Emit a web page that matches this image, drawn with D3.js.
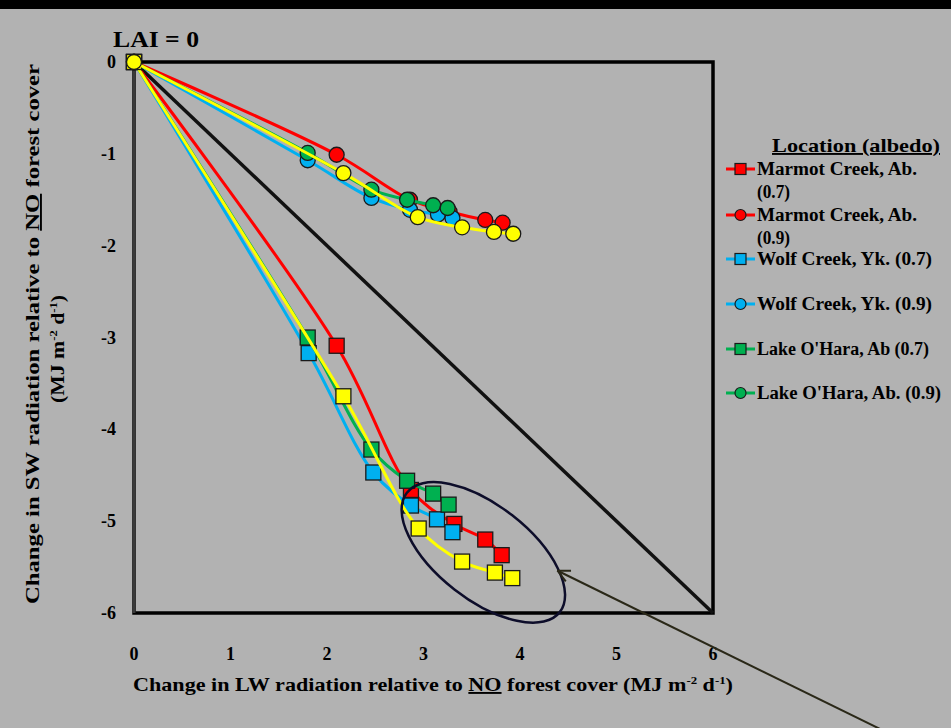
<!DOCTYPE html>
<html>
<head>
<meta charset="utf-8">
<script src="https://cdn.jsdelivr.net/npm/d3@7"></script>
<style>
  body { margin: 0; background: #000; }
  text { font-family: "Liberation Serif", "DejaVu Serif", serif; font-weight: bold; fill: #000; }
</style>
</head>
<body>
<script>
// series values, [x = change in LW, y = change in SW]
const marmot07 = [[0, 0], [2.10, -3.09], [2.87, -4.66], [3.32, -5.03], [3.64, -5.20], [3.81, -5.37]];
const marmot09 = [[0, 0], [2.10, -1.01], [2.86, -1.50], [3.27, -1.63], [3.64, -1.72], [3.82, -1.75]];
const wolf07 = [[0, 0], [1.81, -3.17], [2.48, -4.47], [2.87, -4.83], [3.14, -4.98], [3.30, -5.12]];
const wolf09 = [[0, 0], [1.80, -1.07], [2.46, -1.48], [2.86, -1.61], [3.15, -1.66], [3.30, -1.70]];
const ohara07 = [[0, 0], [1.80, -3.00], [2.46, -4.22], [2.83, -4.56], [3.10, -4.70], [3.26, -4.82]];
const ohara09 = [[0, 0], [1.80, -0.99], [2.46, -1.39], [2.83, -1.50], [3.10, -1.56], [3.25, -1.59]];
const other07 = [[0, 0], [2.17, -3.64], [2.95, -5.08], [3.40, -5.44], [3.74, -5.56], [3.92, -5.62]];
const other09 = [[0, 0], [2.17, -1.21], [2.94, -1.69], [3.40, -1.80], [3.73, -1.85], [3.93, -1.87]];

const legendNames = [
  ["Marmot Creek, Ab.", "(0.7)"],
  ["Marmot Creek, Ab.", "(0.9)"],
  ["Wolf Creek, Yk. (0.7)"],
  ["Wolf Creek, Yk. (0.9)"],
  ["Lake O'Hara, Ab (0.7)"],
  ["Lake O'Hara, Ab. (0.9)"]
];
const xTicks = [0, 1, 2, 3, 4, 5, 6];
const yTicks = [0, -1, -2, -3, -4, -5, -6];

const series = [
  { data: marmot07, color: "#ff0000", shape: "square", legend: 0 },
  { data: marmot09, color: "#ff0000", shape: "circle", legend: 1 },
  { data: wolf07, color: "#00b0f0", shape: "square", legend: 2 },
  { data: wolf09, color: "#00b0f0", shape: "circle", legend: 3 },
  { data: ohara07, color: "#00b050", shape: "square", legend: 4 },
  { data: ohara09, color: "#00b050", shape: "circle", legend: 5 },
  { data: other07, color: "#ffff00", shape: "square", legend: -1 },
  { data: other09, color: "#ffff00", shape: "circle", legend: -1 }
];

const W = 951, H = 728;
const svg = d3.select('body').append('svg')
  .attr('width', W)
  .attr('height', H);

svg.append('rect').attr('width', W).attr('height', H).attr('fill', '#000');
svg.append('rect').attr('y', 9).attr('width', W).attr('height', H - 9).attr('fill', '#b2b2b2');

const x = d3.scaleLinear().domain([0, 6]).range([134, 713]);
const y = d3.scaleLinear().domain([0, -6]).range([62, 613]);

// frame
svg.append('rect')
  .attr('x', x(0)).attr('y', y(0))
  .attr('width', x(6) - x(0)).attr('height', y(-6) - y(0))
  .attr('fill', 'none').attr('stroke', '#000').attr('stroke-width', 3.5);
svg.append('line')
  .attr('x1', x(0)).attr('x2', x(0)).attr('y1', y(0)).attr('y2', y(-6))
  .attr('stroke', '#3a3a3a').attr('stroke-width', 3);

// 1:1 line
svg.append('line')
  .attr('x1', x(0)).attr('y1', y(0)).attr('x2', x(6)).attr('y2', y(-6))
  .attr('stroke', '#111').attr('stroke-width', 3.5);

// tick labels
svg.selectAll('.xt').data(xTicks).enter().append('text')
  .attr('x', d => x(d)).attr('y', 660)
  .attr('text-anchor', 'middle').attr('font-size', 18)
  .text(d => d);
svg.selectAll('.yt').data(yTicks).enter().append('text')
  .attr('x', 116).attr('y', d => y(d) + 6)
  .attr('text-anchor', 'end').attr('font-size', 18)
  .text(d => d === 0 ? '0' : '-' + Math.abs(d));

// axis titles
function units(t) {
  t.append('tspan').text('(MJ m');
  t.append('tspan').attr('font-size', 11).attr('dy', -7).text('-2');
  t.append('tspan').attr('dy', 7).text(' d');
  t.append('tspan').attr('font-size', 11).attr('dy', -7).text('-1');
  t.append('tspan').attr('dy', 7).text(')');
}
const xt = svg.append('text').attr('x', 133).attr('y', 691).attr('font-size', 19)
  .attr('textLength', 600).attr('lengthAdjust', 'spacingAndGlyphs');
xt.append('tspan').text('Change in LW radiation relative to ');
xt.append('tspan').attr('text-decoration', 'underline').text('NO');
xt.append('tspan').text(' forest cover ');
units(xt);

const yt1 = svg.append('text').attr('transform', 'translate(39,334) rotate(-90)')
  .attr('text-anchor', 'middle').attr('font-size', 19)
  .attr('textLength', 540).attr('lengthAdjust', 'spacingAndGlyphs');
yt1.append('tspan').text('Change in SW radiation relative to ');
yt1.append('tspan').attr('text-decoration', 'underline').text('NO');
yt1.append('tspan').text(' forest cover');
const yt2 = svg.append('text').attr('transform', 'translate(64,349) rotate(-90)')
  .attr('text-anchor', 'middle').attr('font-size', 19)
  .attr('textLength', 108).attr('lengthAdjust', 'spacingAndGlyphs');
units(yt2);

svg.append('text').attr('x', 113).attr('y', 47).attr('font-size', 24)
  .attr('textLength', 86).attr('lengthAdjust', 'spacingAndGlyphs').text('LAI = 0');

// series
const line = d3.line().x(d => x(d[0])).y(d => y(d[1])).curve(d3.curveCatmullRom.alpha(0.5));

function marker(g, shape, color, cx, cy) {
  if (shape === 'square') {
    g.append('rect').attr('x', cx - 7.5).attr('y', cy - 7.5).attr('width', 15).attr('height', 15)
      .attr('fill', color).attr('stroke', '#1a1a1a').attr('stroke-width', 1.3);
  } else {
    g.append('circle').attr('cx', cx).attr('cy', cy).attr('r', 7.5)
      .attr('fill', color).attr('stroke', '#1a1a1a').attr('stroke-width', 1.3);
  }
}

series.forEach(s => {
  const g = svg.append('g');
  g.append('path').datum(s.data).attr('d', line)
    .attr('fill', 'none').attr('stroke', s.color).attr('stroke-width', 3);
  s.data.forEach(d => marker(g, s.shape, s.color, x(d[0]), y(d[1])));
});

// annotation: ellipse round the low-LAI points and arrow
const ell = [3.62, -5.34];
svg.append('ellipse')
  .attr('transform', `translate(${x(ell[0])},${y(ell[1])}) rotate(38)`)
  .attr('rx', 97).attr('ry', 47)
  .attr('fill', 'none').attr('stroke', '#0d0d2a').attr('stroke-width', 2.5);

svg.append('defs').append('marker')
  .attr('id', 'arr').attr('viewBox', '0 0 14 14').attr('refX', 13).attr('refY', 7)
  .attr('markerWidth', 14).attr('markerHeight', 14).attr('markerUnits', 'userSpaceOnUse')
  .attr('orient', 'auto')
  .append('path').attr('d', 'M1,1 L13,7 L1,13').attr('fill', 'none')
  .attr('stroke', '#2a2818').attr('stroke-width', 2);
svg.append('line')
  .attr('x1', x(7.9)).attr('y1', y(-7.35)).attr('x2', x(4.39)).attr('y2', y(-5.54))
  .attr('stroke', '#2a2818').attr('stroke-width', 2)
  .attr('marker-end', 'url(#arr)');

// legend
const lg = svg.append('g');
lg.append('text').attr('x', 772).attr('y', 152).attr('font-size', 19)
  .attr('textLength', 168).attr('lengthAdjust', 'spacingAndGlyphs')
  .attr('text-decoration', 'underline').text('Location (albedo)');
const legendY = [169, 215, 259, 304, 349, 393];
const legendW = { "Marmot Creek, Ab.": 160, "(0.7)": 33, "(0.9)": 33, "Wolf Creek, Yk. (0.7)": 175, "Wolf Creek, Yk. (0.9)": 175, "Lake O'Hara, Ab (0.7)": 172, "Lake O'Hara, Ab. (0.9)": 184 };
series.filter(s => s.legend >= 0).forEach(s => {
  const ly = legendY[s.legend];
  lg.append('line').attr('x1', 726).attr('x2', 755).attr('y1', ly).attr('y2', ly)
    .attr('stroke', s.color).attr('stroke-width', 3);
  if (s.shape === 'square') {
    lg.append('rect').attr('x', 735).attr('y', ly - 5.5).attr('width', 11).attr('height', 11)
      .attr('fill', s.color).attr('stroke', '#1a1a1a').attr('stroke-width', 1.2);
  } else {
    lg.append('circle').attr('cx', 740.5).attr('cy', ly).attr('r', 5.5)
      .attr('fill', s.color).attr('stroke', '#1a1a1a').attr('stroke-width', 1.2);
  }
  legendNames[s.legend].forEach((t, i) => {
    lg.append('text').attr('x', 757).attr('y', ly + 6 + i * 23)
      .attr('font-size', 18)
      .attr('textLength', legendW[t]).attr('lengthAdjust', 'spacingAndGlyphs').text(t);
  });
});
</script>
</body>
</html>
